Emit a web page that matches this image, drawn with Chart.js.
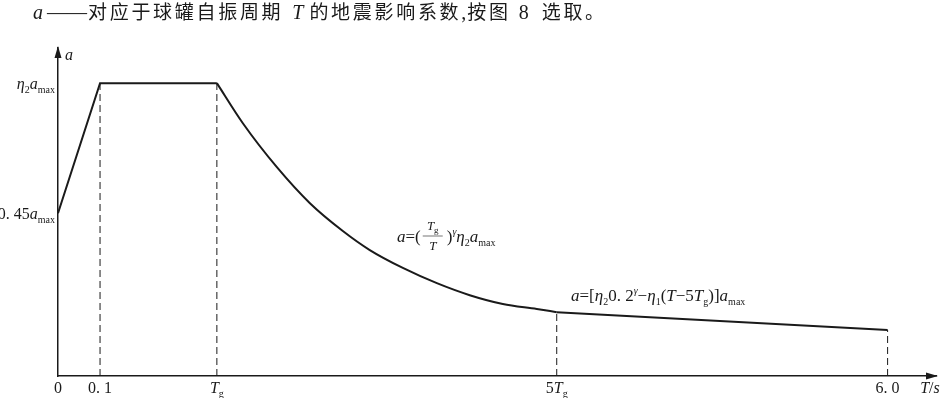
<!DOCTYPE html>
<html>
<head>
<meta charset="utf-8">
<script src="https://cdn.jsdelivr.net/npm/chart.js@4/dist/chart.umd.min.js"></script>
<style>
  html, body { margin: 0; padding: 0; background: #fff; }
  canvas { display: block; }
</style>
</head>
<body>
<canvas id="spectrum" width="944" height="398"></canvas>
<script>
// Schematic seismic influence coefficient curve (not to scale)
// x: schematic period position, y: coefficient relative to eta2*amax
const keyT = [0, 0.304, 1.149, 3.607, 6.0];          // 0, 0.1, Tg, 5Tg, 6.0
const riseT = [0, 0.304, 1.149];
const riseA = [0.556, 1.0, 1.0];
const decayT = [1.149, 1.337, 1.583, 1.822, 2.060, 2.255, 2.494, 2.740, 2.978, 3.217, 3.463, 3.607];
const decayA = [1.0, 0.863, 0.713, 0.590, 0.495, 0.430, 0.369, 0.317, 0.276, 0.246, 0.229, 0.218];
const tailT = [3.607, 6.0];
const tailA = [0.218, 0.157];
const guideT = [0.304, 1.149, 3.607, 6.0];
const guideTop = [1.0, 1.0, 0.218, 0.157];
const yKeys = [1.0, 0.556];                           // eta2*amax, 0.45*amax

const SERIF = '"Liberation Serif", "DejaVu Serif", serif';
const CJK = '"Noto Sans CJK SC", sans-serif';
const INK = '#1a1a1a';

const seg = (t, opt = {}) => Object.assign({ t, it: false, sz: 16, dy: 0, fam: SERIF, gap: 0, pitch: 0 }, opt);
const it = (t, opt = {}) => seg(t, Object.assign({ it: true }, opt));
const sub = (t, opt = {}) => seg(t, Object.assign({ sz: 10, dy: 4 }, opt));
const sup = t => seg(t, { sz: 10, dy: -7, it: true });
const han = (t, opt = {}) => seg(t, Object.assign({ fam: CJK, sz: 19, pitch: 21.7 }, opt));

function fontOf(p) {
    return (p.it ? 'italic ' : '') + p.sz + 'px ' + p.fam;
}

function partWidth(ctx, p) {
    ctx.font = fontOf(p);
    const w = p.pitch ? p.pitch * [...p.t].length : ctx.measureText(p.t).width;
    return w + p.gap;
}

function drawRich(ctx, parts, x, y, align) {
    const w = parts.reduce((s, p) => s + partWidth(ctx, p), 0);
    let cx = align === 'right' ? x - w : align === 'center' ? x - w / 2 : x;
    parts.forEach(p => {
        ctx.font = fontOf(p);
        if (p.pitch) {
            [...p.t].forEach((ch, k) => ctx.fillText(ch, cx + k * p.pitch, y + p.dy));
        } else {
            ctx.fillText(p.t, cx, y + p.dy);
        }
        cx += partWidth(ctx, p);
    });
    return cx;
}

const xLabels = [
    [seg('0')],
    [seg('0. 1')],
    [it('T'), sub('g')],
    [seg('5'), it('T'), sub('g')],
    [seg('6. 0')]
];
const yLabels = [
    [it('η'), sub('2'), it('a'), sub('max')],
    [seg('0. 45'), it('a'), sub('max')]
];

const labelPlugin = {
    id: 'schematicLabels',
    afterDraw(chart) {
        const ctx = chart.ctx;
        const xs = chart.scales.x, ys = chart.scales.y;
        const area = chart.chartArea;
        ctx.save();
        ctx.fillStyle = INK;
        ctx.strokeStyle = INK;
        ctx.textBaseline = 'alphabetic';

        // header line
        drawRich(ctx, [
            it('a', { sz: 20, gap: 4 }), seg('——', { sz: 20, gap: 1 }),
            han('对应于球罐自振周期', { gap: 9 }), it('T', { sz: 20, gap: 6 }),
            han('的地震影响系数'), seg(',', { sz: 20, gap: 1 }),
            han('按图', { gap: 8 }), seg('8', { sz: 20, gap: 13 }), han('选取。')
        ], 33, 19, 'left');

        // arrows
        ctx.beginPath();
        ctx.moveTo(area.right + 2, area.bottom);
        ctx.lineTo(area.right - 10, area.bottom - 3.5);
        ctx.lineTo(area.right - 10, area.bottom + 3.5);
        ctx.closePath();
        ctx.fill();
        ctx.beginPath();
        ctx.moveTo(area.left, area.top - 2);
        ctx.lineTo(area.left - 3.5, area.top + 10);
        ctx.lineTo(area.left + 3.5, area.top + 10);
        ctx.closePath();
        ctx.fill();

        // axis names
        drawRich(ctx, [it('a')], area.left + 7, area.top + 12, 'left');
        drawRich(ctx, [it('T'), seg('/'), it('s')], area.right - 6, area.bottom + 17, 'center');

        // tick labels
        keyT.forEach((t, i) => {
            drawRich(ctx, xLabels[i], xs.getPixelForValue(t), area.bottom + 17, 'center');
        });
        yKeys.forEach((a, i) => {
            drawRich(ctx, yLabels[i], area.left - 3, ys.getPixelForValue(a) + 6, 'right');
        });

        // formula for the decaying branch
        let fx = 397, fy = 242;
        fx = drawRich(ctx, [it('a', { sz: 17 }), seg('=(', { sz: 17 })], fx, fy, 'left');
        drawRich(ctx, [it('T', { sz: 13 }), sub('g', { sz: 9, dy: 3 })], fx + 12, fy - 12, 'center');
        drawRich(ctx, [it('T', { sz: 13 })], fx + 12, fy + 8, 'center');
        ctx.lineWidth = 0.6;
        ctx.beginPath();
        ctx.moveTo(fx + 2, fy - 6);
        ctx.lineTo(fx + 22, fy - 6);
        ctx.stroke();
        fx += 26;
        drawRich(ctx, [seg(')', { sz: 17 }), sup('γ'), it('η', { sz: 17 }), sub('2'),
            it('a', { sz: 17 }), sub('max')], fx, fy, 'left');

        // formula for the linear tail
        const s17 = { sz: 17 };
        drawRich(ctx, [
            it('a', s17), seg('=[', s17), it('η', s17), sub('2'), seg('0. 2', s17), sup('γ'),
            seg('−', s17), it('η', s17), sub('1'), seg('(', s17), it('T', s17), seg('−5', s17),
            it('T', s17), sub('g'), seg(')]', s17), it('a', s17), sub('max')
        ], 571, 301, 'left');
        ctx.restore();
    }
};

const line = (xsArr, ysArr, extra = {}) => Object.assign({
    data: xsArr.map((t, i) => ({ x: t, y: ysArr[i] })),
    borderColor: INK,
    borderWidth: 2,
    pointRadius: 0,
    tension: 0,
    fill: false
}, extra);

const datasets = [
    line(riseT, riseA),
    line(decayT, decayA, { cubicInterpolationMode: 'monotone' }),
    line(tailT, tailA)
];
guideT.forEach((t, i) => {
    datasets.push(line([t, t], [0, guideTop[i]], { borderWidth: 1, borderDash: [7, 4] }));
});

new Chart(document.getElementById('spectrum'), {
    type: 'line',
    data: { datasets },
    options: {
        responsive: false,
        animation: false,
        devicePixelRatio: 1,
        layout: { padding: { left: 50, right: 8, top: 48, bottom: 14 } },
        plugins: { legend: { display: false }, tooltip: { enabled: false } },
        scales: {
            x: {
                type: 'linear', min: 0, max: 6.35,
                grid: { display: false },
                ticks: { display: false },
                border: { display: true, color: INK, width: 1.5 }
            },
            y: {
                type: 'linear', min: 0, max: 1.12,
                grid: { display: false },
                ticks: { display: false },
                border: { display: true, color: INK, width: 1.5 }
            }
        }
    },
    plugins: [labelPlugin]
});
</script>
</body>
</html>
